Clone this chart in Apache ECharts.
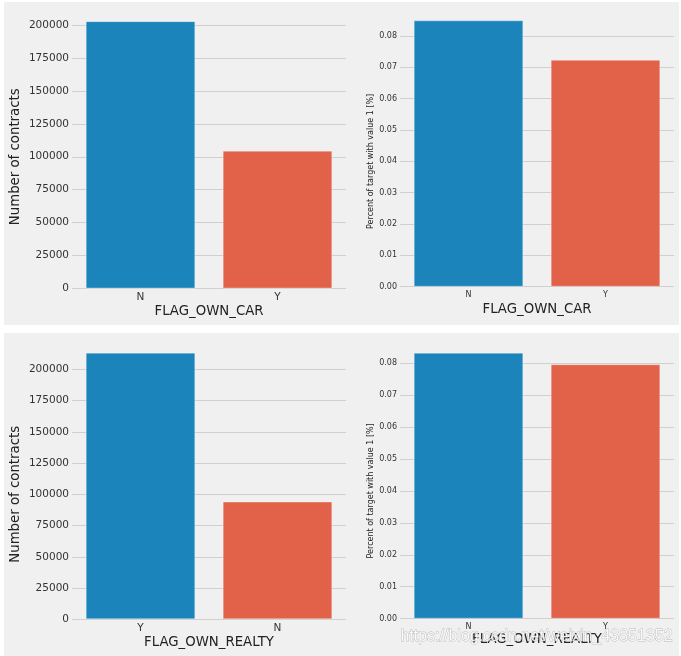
<!DOCTYPE html>
<html>
<head>
<meta charset="utf-8">
<script src="https://cdn.jsdelivr.net/npm/echarts@6/dist/echarts.min.js"></script>
<style>
html,body{margin:0;padding:0;background:#ffffff;}
#chart{width:681px;height:656px;}
</style>
</head>
<body>
<div id="chart"></div>
<script>
// ---- data ----
const carCategories = ['N', 'Y'];
const carCounts = [202924, 104587];
const carTargetCategories = ['N', 'Y'];
const carTargetPct = [0.0850, 0.0724];

const realtyCategories = ['Y', 'N'];
const realtyCounts = [213312, 94199];
const realtyTargetCategories = ['N', 'Y'];
const realtyTargetPct = [0.0832, 0.0796];

const countTickStep = 25000;
const pctTickStep = 0.01;
const countLabel = 'Number of contracts';
const pctLabel = 'Percent of target with value 1 [%]';
const xLabelTop = 'FLAG_OWN_CAR';
const xLabelBottom = 'FLAG_OWN_REALTY';
const watermark = 'https://blog.csdn.net/weixin_43851352';

// ---- styling ----
const FONT = 'DejaVu Sans';
const PALETTE = ['#1b85bb', '#e26149'];
const GRID_COLOR = '#d0d0d0';
const TICK_COLOR = '#333333';
const NAME_COLOR = '#222222';

const grids = [
  {left: 72, top: 25, width: 274, height: 263.5},
  {left: 400, top: 36, width: 274, height: 250.7},
  {left: 72, top: 369.3, width: 274, height: 250},
  {left: 400, top: 363, width: 274, height: 255.7}
];

function xAxis(idx, cats, name, labelSize, labelMargin, nameGap) {
  return {
    type: 'category', gridIndex: idx, data: cats,
    axisLine: {show: false}, axisTick: {show: false},
    axisLabel: {fontFamily: FONT, fontSize: labelSize, color: TICK_COLOR, margin: labelMargin},
    splitLine: {show: false},
    name: name, nameLocation: 'middle', nameGap: nameGap,
    nameTextStyle: {fontFamily: FONT, fontSize: 13.3, color: NAME_COLOR}
  };
}
function yAxis(idx, max, step, name, labelSize, nameSize, nameGap, fmt) {
  return {
    type: 'value', gridIndex: idx, min: 0, max: max, interval: step,
    axisLine: {show: false}, axisTick: {show: false},
    axisLabel: {fontFamily: FONT, fontSize: labelSize, color: TICK_COLOR, margin: 3, formatter: fmt},
    splitLine: {show: true, lineStyle: {color: GRID_COLOR, width: 1}},
    name: name, nameLocation: 'middle', nameRotate: 90, nameGap: nameGap,
    nameTextStyle: {fontFamily: FONT, fontSize: nameSize, color: NAME_COLOR}
  };
}
function bars(idx, values) {
  return {
    type: 'bar', xAxisIndex: idx, yAxisIndex: idx, data: values,
    barCategoryGap: '20%', clip: false,
    itemStyle: {
      color: p => PALETTE[p.dataIndex % PALETTE.length],
      borderColor: 'rgba(255,255,255,0.3)', borderWidth: 1
    },
    emphasis: {disabled: true}, animation: false
  };
}
const pctFmt = v => v.toFixed(2);
const cntFmt = v => String(v);

const option = {
  animation: false,
  graphic: [
    {type: 'rect', z: -10, silent: true, shape: {x: 4, y: 2, width: 675, height: 323}, style: {fill: '#f0f0f0'}},
    {type: 'rect', z: -10, silent: true, shape: {x: 4, y: 333, width: 675, height: 323}, style: {fill: '#f0f0f0'}},
    {type: 'text', z: 100, silent: true, left: 400, top: 628,
      style: {text: watermark, fontFamily: 'Liberation Sans', fontSize: 16, fill: 'rgba(255,255,255,0.85)',
              stroke: 'rgba(140,140,140,0.55)', lineWidth: 0.8}}
  ],
  grid: grids,
  xAxis: [
    xAxis(0, carCategories, xLabelTop, 10.5, 3, 17),
    xAxis(1, carTargetCategories, xLabelTop, 8, 4, 16),
    xAxis(2, realtyCategories, xLabelBottom, 10.5, 3, 17),
    xAxis(3, realtyTargetCategories, xLabelBottom, 8, 4, 14)
  ],
  yAxis: [
    yAxis(0, 200000, countTickStep, countLabel, 10.5, 13.3, 50, cntFmt),
    yAxis(1, 0.08, pctTickStep, pctLabel, 8, 8, 24, pctFmt),
    yAxis(2, 200000, countTickStep, countLabel, 10.5, 13.3, 50, cntFmt),
    yAxis(3, 0.08, pctTickStep, pctLabel, 8, 8, 24, pctFmt)
  ],
  series: [
    bars(0, carCounts),
    bars(1, carTargetPct),
    bars(2, realtyCounts),
    bars(3, realtyTargetPct)
  ]
};
const chart = echarts.init(document.getElementById('chart'), null, {renderer: 'canvas'});
chart.setOption(option);
</script>
</body>
</html>
